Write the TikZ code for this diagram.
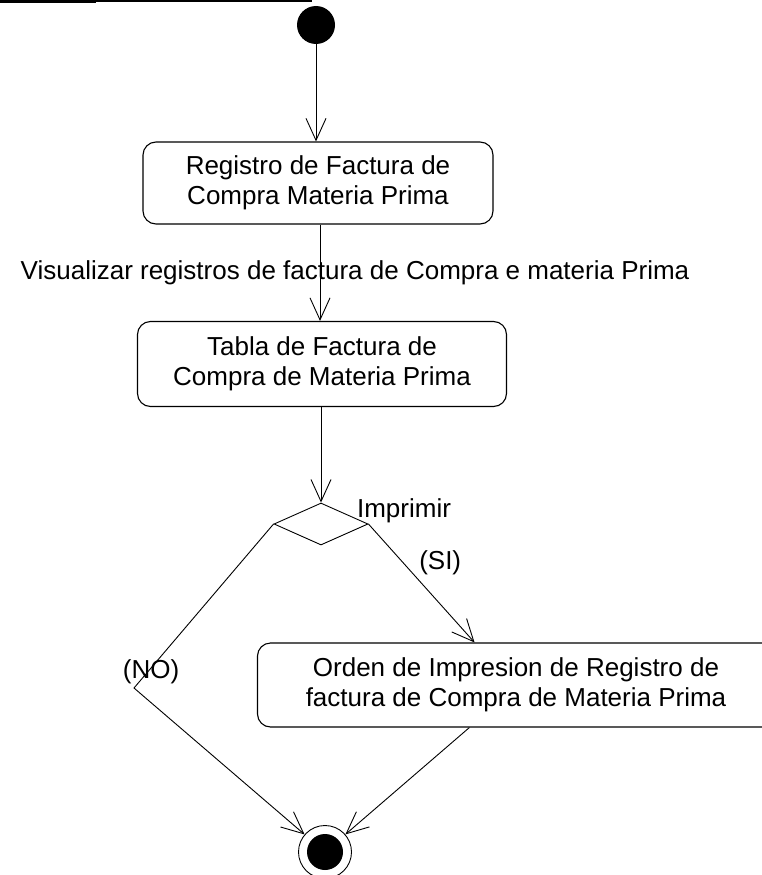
\documentclass[tikz,border=0pt]{standalone}
\usepackage{fontspec}
\setmainfont{Liberation Sans}
\usetikzlibrary{positioning, arrows.meta, calc, shapes.geometric}

\begin{document}
\begin{tikzpicture}[
  x=1pt, y=-1pt,          % coordenadas en pixeles, y hacia abajo
  line width=0.9pt,
  >={Straight Barb[length=22pt, width=20pt]},  % punta abierta en V
  font=\fontsize{26}{30}\selectfont,
  activ/.style={draw, rectangle, rounded corners=13pt, align=center, line width=1.1pt},
  decis/.style={draw, diamond, minimum width=94pt, minimum height=42pt, inner sep=0pt},
  inicio/.style={circle, fill, minimum size=38pt, inner sep=0pt}
  ]
  \useasboundingbox (0,0) rectangle (762,875);

  % --- borde superior ---
  \draw[line width=3pt] (0,1.5) -- (96,1.5);
  \draw[line width=1.2pt] (96,1) -- (312,1);

  % --- inicio y registro ---
  \node [inicio] (ini) at (316,25) {};
  \node [activ, minimum width=350pt, minimum height=82pt] (reg) at (318,183)
    {Registro de Factura de\\Compra Materia Prima};
  \draw [->] (ini) -- (reg.north -| ini);

  % --- tabla ---
  \node [activ, minimum width=369pt, minimum height=85pt] (tab) at (322,364)
    {Tabla de Factura de\\Compra de Materia Prima};
  \draw [->] (reg.south -| 320,0) -- (tab.north -| 320,0)
    node[midway, xshift=35pt] {Visualizar registros de factura de Compra e materia Prima};

  % --- decision ---
  \node [decis] (dec) at (321,524) {};
  \draw [->] (tab.south -| dec) -- (dec.north);
  \node (imp) at (404,511) {Imprimir};

  % --- orden de impresion ---
  \node [activ, minimum width=517pt, minimum height=84pt] (ord) at (516,685)
    {Orden de Impresion de Registro de\\factura de Compra de Materia Prima};
  \draw [->] (dec.east) -- ($(ord.north west)!0.42!(ord.north east)$)
    node[pos=0.33, right=12pt] (si) {(SI)};

  % --- final ---
  \node [circle, draw, minimum size=53pt, inner sep=0pt] (fin) at (325,852) {};
  \node [inicio, minimum size=36pt] (finc) at (fin) {};
  \coordinate (codo) at (134,688);
  \draw [->] (dec.west) -- (codo) -- (fin);
  \node (no) at ($(codo)+(17,-16)$) {(NO)};
  \draw [->] ($(ord.south west)!0.41!(ord.south east)$) -- (fin);

\end{tikzpicture}
\end{document}
